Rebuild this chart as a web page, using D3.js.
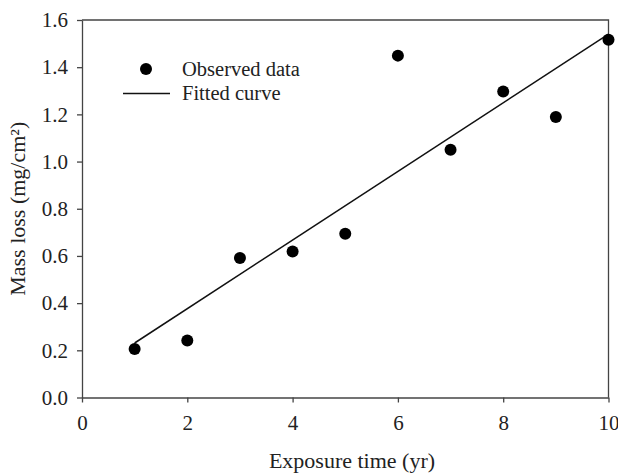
<!DOCTYPE html>
<html>
<head>
<meta charset="utf-8">
<script src="https://cdn.jsdelivr.net/npm/d3@7"></script>
<style>
  body { margin: 0; background: #fff; }
  text { font-family: "Liberation Serif", "Times New Roman", serif; fill: #222; }
  .axis path, .axis line { stroke: #444; stroke-width: 1.3; }
  .axis text { font-size: 21px; fill: #222; }
</style>
</head>
<body>
<div id="chart"></div>
<script>
// observed mass loss vs exposure time
var years = [1, 2, 3, 4, 5, 6, 7, 8, 9, 10];
var massLoss = [0.206, 0.242, 0.591, 0.619, 0.694, 1.449, 1.050, 1.297, 1.189, 1.516];
// fitted curve end points
var fitYears = [1, 10];
var fitLoss = [0.231, 1.540];
var xTicks = [0, 2, 4, 6, 8, 10];
var yTicks = [0, 0.2, 0.4, 0.6, 0.8, 1.0, 1.2, 1.4, 1.6];

var width = 618, height = 473;
var margin = {top: 20, right: 9.5, bottom: 75.5, left: 82};

var svg = d3.select("#chart").append("svg")
    .attr("width", width)
    .attr("height", height);

var w = width - margin.left - margin.right,
    h = height - margin.top - margin.bottom;

var x = d3.scaleLinear().domain([0, 10]).range([0, w]);
var y = d3.scaleLinear().domain([0, 1.6]).range([h, 0]);

var g = svg.append("g").attr("transform", "translate(" + margin.left + "," + margin.top + ")");

// frame top + right
g.append("path")
  .attr("d", "M0,0H" + w + "V" + h)
  .attr("fill", "none")
  .attr("stroke", "#444")
  .attr("stroke-width", 1.3);

g.append("g")
  .attr("class", "axis")
  .attr("transform", "translate(0," + h + ")")
  .call(d3.axisBottom(x).tickValues(xTicks).tickSize(5).tickSizeOuter(0).tickPadding(13));

g.append("g")
  .attr("class", "axis")
  .call(d3.axisLeft(y).tickValues(yTicks).tickFormat(d3.format(".1f")).tickSize(5).tickSizeOuter(0).tickPadding(9));

// fitted line
var line = d3.line()
  .x(function(d, i) { return x(fitYears[i]); })
  .y(function(d) { return y(d); });
g.append("path")
  .datum(fitLoss)
  .attr("d", line)
  .attr("fill", "none")
  .attr("stroke", "#111")
  .attr("stroke-width", 1.5);

// observed points
g.selectAll(".dot")
  .data(massLoss)
  .enter().append("circle")
  .attr("class", "dot")
  .attr("cx", function(d, i) { return x(years[i]); })
  .attr("cy", function(d) { return y(d); })
  .attr("r", 6)
  .attr("fill", "#000");

// legend
var leg = svg.append("g");
leg.append("circle").attr("cx", 146).attr("cy", 69).attr("r", 6).attr("fill", "#000");
leg.append("text").attr("x", 182).attr("y", 76).style("font-size", "20.5px").text("Observed data");
leg.append("line").attr("x1", 123).attr("x2", 170).attr("y1", 93.5).attr("y2", 93.5)
  .attr("stroke", "#111").attr("stroke-width", 1.5);
leg.append("text").attr("x", 182).attr("y", 100).style("font-size", "20.5px").text("Fitted curve");

// axis titles
svg.append("text")
  .attr("x", 352).attr("y", 468)
  .attr("text-anchor", "middle")
  .style("font-size", "22px")
  .text("Exposure time (yr)");

svg.append("text")
  .attr("transform", "translate(25," + (margin.top + h / 2) + ") rotate(-90)")
  .attr("text-anchor", "middle")
  .style("font-size", "22px")
  .text("Mass loss (mg/cm²)");
</script>
</body>
</html>
